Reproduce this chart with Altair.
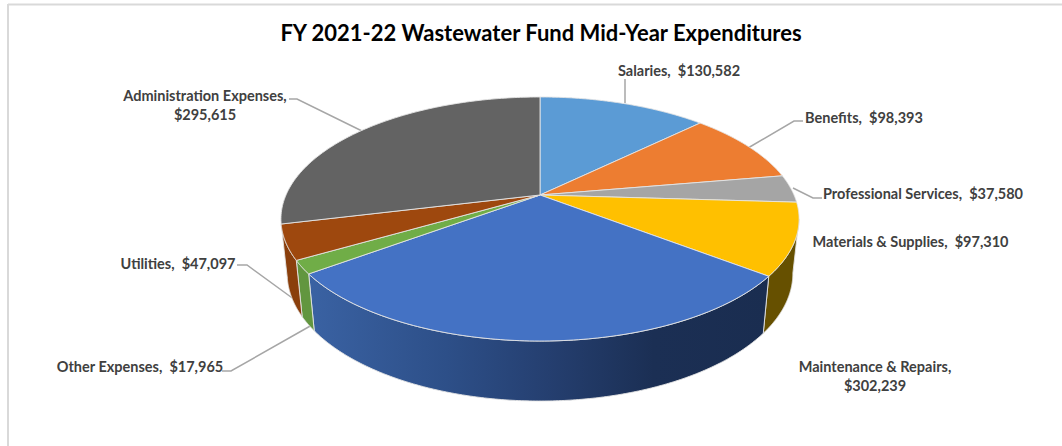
import altair as alt
import numpy as np
import pandas as pd

# Fund expenditures, in pie order (clockwise from twelve o'clock)
CATEGORIES = ["Salaries", "Benefits", "Professional Services", "Materials & Supplies",
              "Maintenance & Repairs", "Other Expenses", "Utilities", "Administration Expenses"]
VALUES = [130582, 98393, 37580, 97310, 302239, 17965, 47097, 295615]
TOP_COLORS = ["#5B9BD5", "#ED7D31", "#A5A5A5", "#FFC000", "#4472C4", "#70AD47", "#9E480E", "#636363"]
TITLE = "FY 2021-22 Wastewater Fund Mid-Year Expenditures"

# Label placement: centre x, first-line y, and whether the amount wraps to a second line
LABEL_X = [679, 864, 923, 910.5, 875, 140, 178, 205]
LABEL_Y = [71.5, 118.5, 194.5, 242.5, 368, 367.5, 264.5, 97]
LABEL_WRAP = [False, False, False, False, True, False, False, True]

# Leader lines, one per labelled slice that has one
LEADERS = {
    "Salaries": [(625, 79), (625, 103)],
    "Benefits": [(803, 121), (794, 121), (748, 148)],
    "Professional Services": [(822, 198), (813, 198), (793, 188)],
    "Utilities": [(237, 265), (247, 265), (295, 300)],
    "Other Expenses": [(222, 371), (231, 371), (312, 325)],
    "Administration Expenses": [(289, 99), (297, 99), (362, 131)],
}

W, H = 1062, 446
CX, CY = 540.0, 195.0   # apex of the pie on the page
AX, AY = 254.0, 117.3   # disc radii before perspective
PERSP = 0.1967          # foreshortening of the far edge
DEPTH_X, DEPTH_YK, DEPTH_Y0 = 0.976, 1.046, 248.3   # how the lower rim relates to the upper rim
SILHOUETTE = np.degrees(np.arccos(-PERSP))          # angle where the wall leaves the top face

fractions = np.array(VALUES) / sum(VALUES)
edges = np.concatenate([[0.0], np.cumsum(fractions)]) * 360.0


def rim(deg):
    t = np.radians(deg)
    w = 1 + PERSP * np.cos(t)
    return CX + AX * np.sin(t) / w, CY - AY * np.cos(t) / w


def lower_rim(deg):
    x, y = rim(deg)
    return CX + (x - CX) * DEPTH_X, DEPTH_Y0 + (y - CY) * DEPTH_YK


def frame(xs, ys):
    return pd.DataFrame({"x": xs, "y": ys, "i": np.arange(len(xs))})


def wedge(start, end):
    a = np.linspace(start, end, 120)
    x, y = rim(a)
    return frame(np.r_[CX, x, CX], np.r_[CY, y, CY])


def wall(start, end):
    a = np.linspace(start, end, 200)
    x, y = rim(a)
    xb, yb = lower_rim(a[::-1])
    return frame(np.r_[x, xb, x[0]], np.r_[y, yb, y[0]])


x_scale = alt.Scale(domain=[0, W], range=[0, W], nice=False, zero=False)
y_scale = alt.Scale(domain=[0, H], range=[0, H], nice=False, zero=False)
X = alt.X("x:Q", scale=x_scale, axis=None)
Y = alt.Y("y:Q", scale=y_scale, axis=None)


def polygon(df, fill, stroke="#E4E4E4", width=0.9):
    return alt.Chart(df).mark_line(
        fill=fill, stroke=stroke, strokeWidth=width, strokeJoin="round"
    ).encode(x=X, y=Y, order=alt.Order("i:Q"))


# Chart frame along the left and top
frame_left = alt.Chart(pd.DataFrame({"a": [0]})).mark_rule(color="#D9D9D9", strokeWidth=2).encode(
    x=alt.value(8), y=alt.value(4), y2=alt.value(H))
frame_top = alt.Chart(pd.DataFrame({"a": [0]})).mark_rule(color="#D9D9D9", strokeWidth=2).encode(
    x=alt.value(8), x2=alt.value(W), y=alt.value(4.5))

# Leader lines sit under the pie
leader_rows = [
    {"name": name, "x": p[0], "y": p[1], "i": k}
    for name, pts in LEADERS.items() for k, p in enumerate(pts)
]
leaders = alt.Chart(pd.DataFrame(leader_rows)).mark_line(color="#A6A6A6", strokeWidth=1.5).encode(
    x=X, y=Y, detail="name:N", order=alt.Order("i:Q"))

# Outer walls of the front-facing slices
maint_gradient = alt.Gradient(
    gradient="linear", x1=0, x2=1, y1=0, y2=0,
    stops=[
        alt.GradientStop(color="#3A62A3", offset=0),
        alt.GradientStop(color="#2D4F88", offset=0.3),
        alt.GradientStop(color="#253F70", offset=0.52),
        alt.GradientStop(color="#1B2F54", offset=0.75),
        alt.GradientStop(color="#1A2D50", offset=1),
    ],
)
walls = [
    polygon(wall(max(edges[3], SILHOUETTE), edges[4]), "#665000"),
    polygon(wall(edges[4], edges[5]), maint_gradient),
    polygon(wall(edges[5], edges[6]), "#62963F"),
    polygon(wall(edges[6], edges[7]), "#8A3F0C"),
]

# Top faces of all slices
faces = [polygon(wedge(edges[i], edges[i + 1]), TOP_COLORS[i]) for i in range(len(VALUES))]

label_df = pd.DataFrame({
    "label": [
        f"{c},\n${v:,}" if wrap else f"{c},\u00a0 ${v:,}"
        for c, v, wrap in zip(CATEGORIES, VALUES, LABEL_WRAP)
    ],
    "x": LABEL_X,
    "y": LABEL_Y,
})
labels = alt.Chart(label_df).mark_text(
    font="Lato", fontWeight="bold", fontSize=14.5, color="#404040",
    align="center", baseline="middle", lineBreak="\n", lineHeight=19,
).encode(x=X, y=Y, text="label:N")

title = alt.Chart(pd.DataFrame({"t": [TITLE], "x": [541], "y": [34]})).mark_text(
    font="Lato", fontWeight="bold", fontSize=22, color="#000000",
    align="center", baseline="middle",
).encode(x=X, y=Y, text="t:N")

chart = alt.layer(
    frame_left, frame_top, leaders, *walls, *faces, labels, title
).properties(
    width=W, height=H, background="#FFFFFF", padding=0,
    autosize=alt.AutoSizeParams(type="none"),
).configure_view(stroke=None)

chart.save("out.html", embed_options={"renderer": "svg", "actions": False})
